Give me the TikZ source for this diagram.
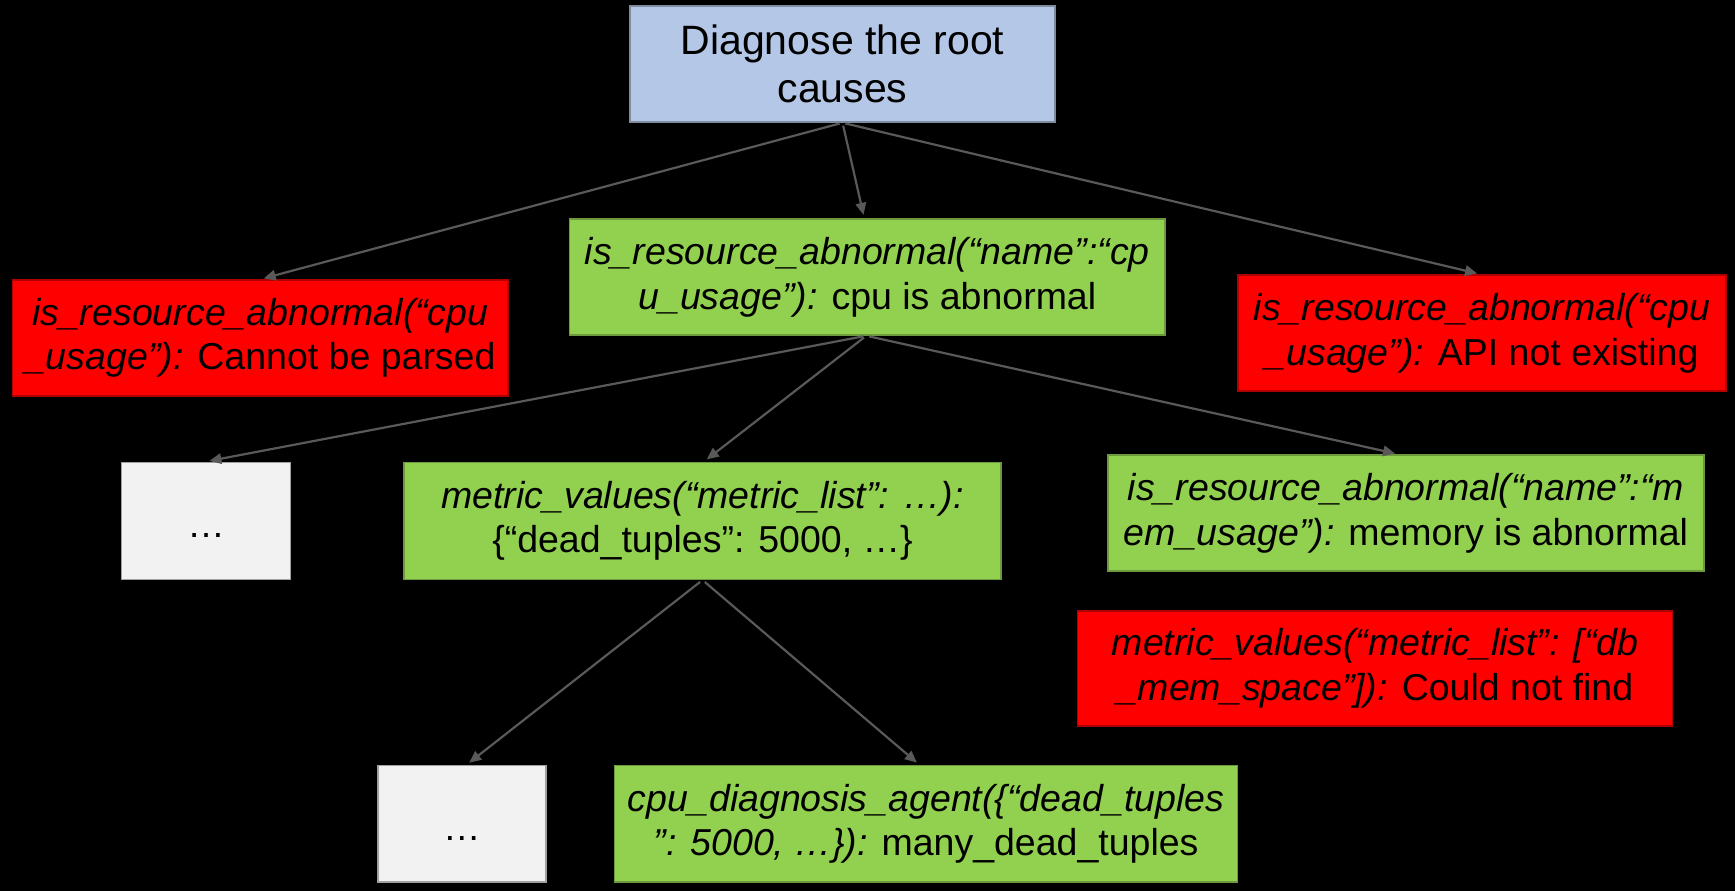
\documentclass[tikz,border=0pt]{standalone}
\usepackage{fontspec}
\setmainfont{Liberation Sans}
\usetikzlibrary{arrows.meta}
\definecolor{bluefill}{HTML}{B4C7E7}
\definecolor{blueline}{HTML}{7F8CA0}
\definecolor{greenfill}{HTML}{92D050}
\definecolor{greenline}{HTML}{6E9A3E}
\definecolor{redfill}{HTML}{FF0000}
\definecolor{redline}{HTML}{B00000}
\definecolor{greyfill}{HTML}{F2F2F2}
\definecolor{greyline}{HTML}{A0A0A0}
\definecolor{arrowgrey}{HTML}{595959}
\begin{document}
\begin{tikzpicture}[x=1pt,y=-1pt,
  box/.style={rectangle, inner sep=0pt, align=center, line width=1.5pt,
    font=\fontsize{37.5}{44.7}\selectfont, text=black},
  rootbox/.style={box, fill=bluefill, draw=blueline, font=\fontsize{41}{48.3}\selectfont},
  greenbox/.style={box, fill=greenfill, draw=greenline},
  redbox/.style={box, fill=redfill, draw=redline},
  greybox/.style={box, fill=greyfill, draw=greyline, text height=34pt, text depth=0pt},
  conn/.style={draw=arrowgrey, line width=2.2pt, -{Triangle[length=12pt,width=10.5pt]},
    shorten >=3.5pt, shorten <=3pt}]
\fill[black] (0,0) rectangle (1735,891);
\useasboundingbox (0,0) rectangle (1735,891);

\node[rootbox, minimum width=425pt, minimum height=116pt] (root) at (842.5,64)
  {Diagnose the root\\causes};
\node[redbox, minimum width=495.5pt, minimum height=115.7pt] (A) at (260.3,337.9)
  {{\itshape is\_resource\_abnormal(“cpu}\\{\itshape \_usage”):} Cannot be parsed};
\node[greenbox, minimum width=595.5pt, minimum height=116pt] (B) at (867.3,277)
  {{\itshape is\_resource\_abnormal(“name”:“cp}\\{\itshape u\_usage”):} cpu is abnormal};
\node[redbox, minimum width=488pt, minimum height=116pt] (C) at (1482,333)
  {{\itshape is\_resource\_abnormal(“cpu}\\{\itshape \_usage”):} API not existing};
\node[greybox, minimum width=168.6pt, minimum height=117pt] (D) at (206,520.8) {…};
\node[greenbox, minimum width=597pt, minimum height=117pt] (E) at (702.5,520.8)
  {{\itshape metric\_values(“metric\_list”: …):}\\\{“dead\_tuples”: 5000, …\}};
\node[greenbox, minimum width=596pt, minimum height=116pt] (F) at (1406,513)
  {{\itshape is\_resource\_abnormal(“name”:“m}\\{\itshape em\_usage”):} memory is abnormal};
\node[redbox, minimum width=595.2pt, minimum height=115pt] (G) at (1375.1,668.5)
  {{\itshape metric\_values(“metric\_list”: [“db}\\{\itshape \_mem\_space”]):} Could not find};
\node[greybox, minimum width=168.2pt, minimum height=116.3pt] (H) at (461.9,823.8) {…};
\node[greenbox, minimum width=622.8pt, minimum height=116.3pt] (I) at (926.1,823.8)
  {{\itshape cpu\_diagnosis\_agent(\{“dead\_tuples}\\{\itshape ”: 5000, …\}):} many\_dead\_tuples};

\draw[conn] (root.south) -- (A.north);
\draw[conn] (root.south) -- ([xshift=-3pt]B.north);
\draw[conn] (root.south) -- ([xshift=-1.5pt]C.north);
\draw[conn] ([xshift=-1pt]B.south) -- (D.north);
\draw[conn] ([xshift=-1pt]B.south) -- ([xshift=1.5pt]E.north);
\draw[conn] ([xshift=-1pt]B.south) -- ([xshift=-7.5pt]F.north);
\draw[conn] (E.south) -- ([xshift=4.5pt]H.north);
\draw[conn] (E.south) -- ([xshift=-6.5pt]I.north);
\end{tikzpicture}
\end{document}
